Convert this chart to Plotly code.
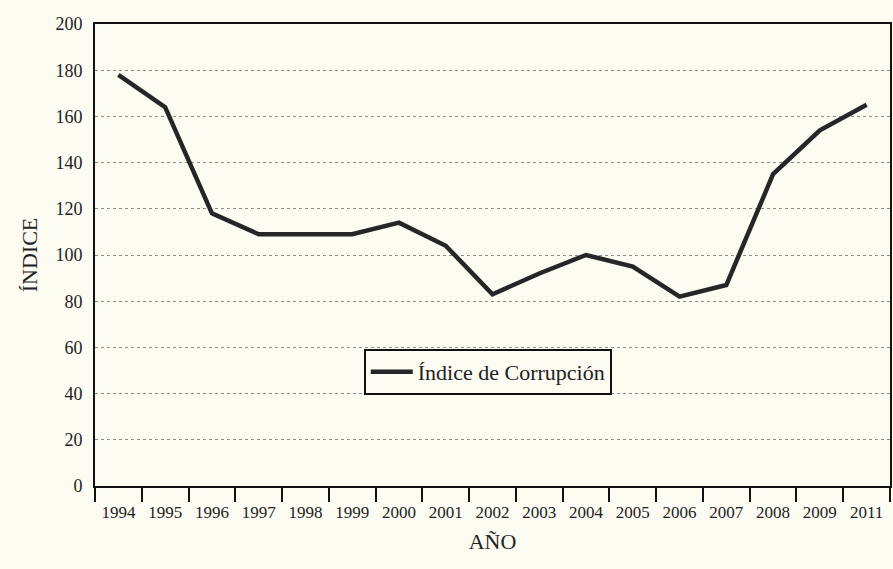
import plotly.graph_objects as go

years = ["1994", "1995", "1996", "1997", "1998", "1999", "2000", "2001", "2002",
         "2003", "2004", "2005", "2006", "2007", "2008", "2009", "2011"]
indice = [178, 164, 118, 109, 109, 109, 114, 104, 83, 92, 100, 95, 82, 87, 135, 154, 165]
y_ticks = [0, 20, 40, 60, 80, 100, 120, 140, 160, 180, 200]

bg = "#fdfcf3"
serif = "Liberation Serif, DejaVu Serif, serif"

fig = go.Figure()
fig.add_trace(go.Scatter(
    x=years, y=indice, mode="lines", name="Índice de Corrupción",
    line=dict(color="#262626", width=4.5),
))

fig.update_layout(
    width=893, height=569,
    paper_bgcolor=bg, plot_bgcolor=bg,
    margin=dict(l=95, r=1, t=24, b=83),
    font=dict(family=serif, color="#222222"),
    showlegend=True,
    legend=dict(
        x=0.494, y=0.247, xanchor="center", yanchor="middle",
        bgcolor=bg, bordercolor="#111111", borderwidth=2,
        font=dict(family=serif, size=22, color="#222222"),
        itemwidth=42,
    ),
    xaxis=dict(
        type="category", range=[-0.5, 16.5],
        tickson="boundaries", ticks="outside", ticklen=14, tickwidth=2,
        tickcolor="#111111",
        showline=True, linecolor="#111111", linewidth=2, mirror=True,
        showgrid=False,
        ticklabelstandoff=10,
        tickfont=dict(family=serif, size=17, color="#222222"),
        title=dict(text="AÑO", font=dict(family=serif, size=22, color="#222222"), standoff=12),
    ),
    yaxis=dict(
        range=[0, 200], tickvals=y_ticks, ticks="",
        showline=True, linecolor="#111111", linewidth=2, mirror=True,
        showgrid=True, gridcolor="#8a8a8a", gridwidth=1, griddash="dot",
        zeroline=False,
        ticklabelstandoff=7,
        tickfont=dict(family=serif, size=18, color="#222222"),
        title=dict(text="ÍNDICE", font=dict(family=serif, size=22, color="#222222"), standoff=12),
    ),
)

fig.write_html(
    "out.html",
    config={"displayModeBar": False},
    post_script="document.body.style.margin='0';document.body.style.background='#fdfcf3';",
)
